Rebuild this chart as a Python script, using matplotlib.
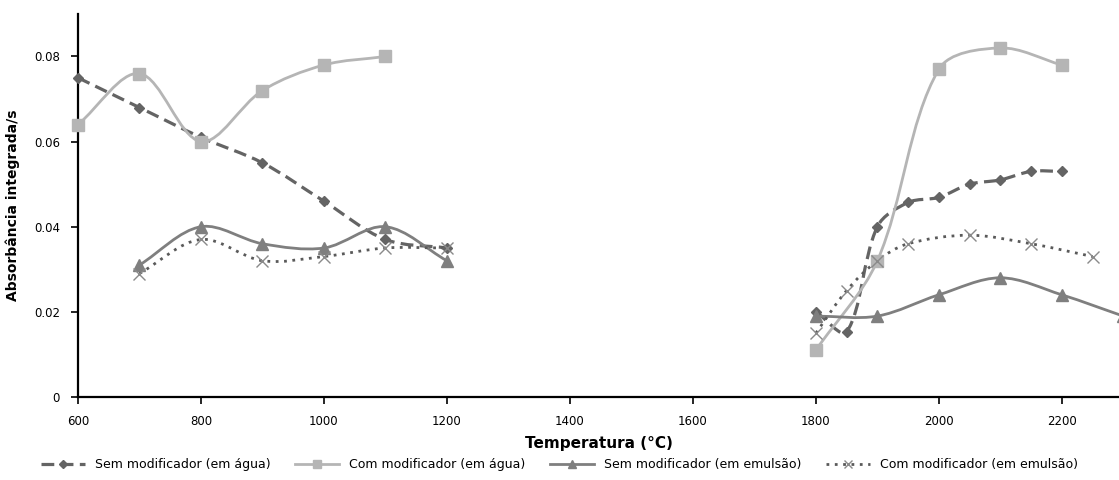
import matplotlib.pyplot as plt
import numpy as np
from matplotlib.path import Path
from matplotlib.patches import PathPatch
from matplotlib.lines import Line2D

# data (two temperature ranges, not joined)
sem_agua_x = [[600, 700, 800, 900, 1000, 1100, 1200],
              [1800, 1850, 1900, 1950, 2000, 2050, 2100, 2150, 2200]]
sem_agua_y = [[0.075, 0.068, 0.061, 0.055, 0.046, 0.037, 0.035],
              [0.020, 0.0153, 0.040, 0.0457, 0.0469, 0.050, 0.051, 0.053, 0.053]]

com_agua_x = [[600, 700, 800, 900, 1000, 1100],
              [1800, 1900, 2000, 2100, 2200]]
com_agua_y = [[0.064, 0.076, 0.060, 0.072, 0.078, 0.080],
              [0.011, 0.032, 0.077, 0.082, 0.078]]

sem_emul_x = [[700, 800, 900, 1000, 1100, 1200],
              [1800, 1900, 2000, 2100, 2200, 2300]]
sem_emul_y = [[0.031, 0.040, 0.036, 0.035, 0.040, 0.032],
              [0.019, 0.019, 0.024, 0.028, 0.024, 0.019]]

com_emul_x = [[700, 800, 900, 1000, 1100, 1200],
              [1800, 1850, 1900, 1950, 2050, 2150, 2250]]
com_emul_y = [[0.029, 0.037, 0.032, 0.033, 0.035, 0.035],
              [0.015, 0.025, 0.032, 0.036, 0.038, 0.036, 0.033]]

labels = ['Sem modificador (em água)', 'Com modificador (em água)',
          'Sem modificador (em emulsão)', 'Com modificador (em emulsão)']

# rough pixel scale of the plot, used so the smoothing behaves like Excel's (screen based)
SX, SY = 0.615, 4262.5


def smooth_path(x, y):
    # Excel-like smoothed line: cubic Bezier, tangents weighted by segment length
    p = np.column_stack([np.asarray(x) * SX, np.asarray(y) * SY]).astype(float)
    n = len(p)
    d = np.hypot(*np.diff(p, axis=0).T)
    verts = [p[0]]
    codes = [Path.MOVETO]
    for i in range(n - 1):
        a, b = p[i], p[i + 1]
        if i > 0:
            t = p[i + 1] - p[i - 1]
            c1 = a + t * d[i] / (d[i - 1] + d[i]) / 3.0
        else:
            c1 = a + (b - a) / 3.0
        if i + 2 < n:
            t = p[i + 2] - p[i]
            c2 = b - t * d[i] / (d[i] + d[i + 1]) / 3.0
        else:
            c2 = b - (b - a) / 3.0
        verts += [c1, c2, b]
        codes += [Path.CURVE4] * 3
    verts = np.array(verts) / [SX, SY]
    return Path(verts, codes)


fig = plt.figure(figsize=(11.19, 4.8), dpi=100)
ax = fig.add_axes([0.0697, 0.173, 0.9303, 0.798])

styles = [
    dict(color='#646464', ls=(0, (4, 2)), lw=2.3, marker='D', ms=5.5, mfc='#646464', mec='#646464', mew=1),
    dict(color='#b5b5b5', ls='-', lw=2.0, marker='s', ms=8, mfc='#b5b5b5', mec='#b5b5b5', mew=1),
    dict(color='#7f7f7f', ls='-', lw=2.0, marker='^', ms=8, mfc='#7f7f7f', mec='#7f7f7f', mew=1),
    dict(color='#5a5a5a', ls=(0, (1, 2)), lw=2.0, marker='x', ms=8, mfc='#8a8a8a', mec='#8a8a8a', mew=1),
]
series = [(sem_agua_x, sem_agua_y), (com_agua_x, com_agua_y),
          (sem_emul_x, sem_emul_y), (com_emul_x, com_emul_y)]

handles = []
for (xs, ys), st, lab in zip(series, styles, labels):
    for x, y in zip(xs, ys):
        ax.add_patch(PathPatch(smooth_path(x, y), facecolor='none', edgecolor=st['color'],
                               linestyle=st['ls'], linewidth=st['lw'], capstyle='butt'))
        ax.plot(x, y, linestyle='none', marker=st['marker'], ms=st['ms'],
                mfc=st['mfc'], mec=st['mec'], mew=st['mew'], clip_on=False, zorder=3)
    handles.append(Line2D([], [], color=st['color'], ls=st['ls'], lw=st['lw'], marker=st['marker'],
                          ms=st['ms'] * 0.8, mfc=st['mfc'], mec=st['mec'], label=lab))

ax.set_xlim(600, 2293)
ax.set_ylim(0, 0.09)
ax.set_xticks(range(600, 2201, 200))
ax.set_yticks([0, 0.02, 0.04, 0.06, 0.08])
ax.set_yticklabels(['0', '0.02', '0.04', '0.06', '0.08'])
ax.tick_params(direction='out', length=5, width=1.2, labelsize=8.5, pad=8)
for s in ['top', 'right']:
    ax.spines[s].set_visible(False)
for s in ['left', 'bottom']:
    ax.spines[s].set_linewidth(1.6)

ax.set_xlabel('Temperatura (°C)', fontsize=11, fontweight='bold', labelpad=6)
ax.set_ylabel('Absorbância integrada/s', fontsize=10, fontweight='bold', labelpad=10)

fig.legend(handles=handles, loc='lower center', bbox_to_anchor=(0.5, -0.005), ncol=4,
           frameon=False, fontsize=9, handlelength=3.5, columnspacing=2.0)

plt.savefig('out.png', dpi=100)
